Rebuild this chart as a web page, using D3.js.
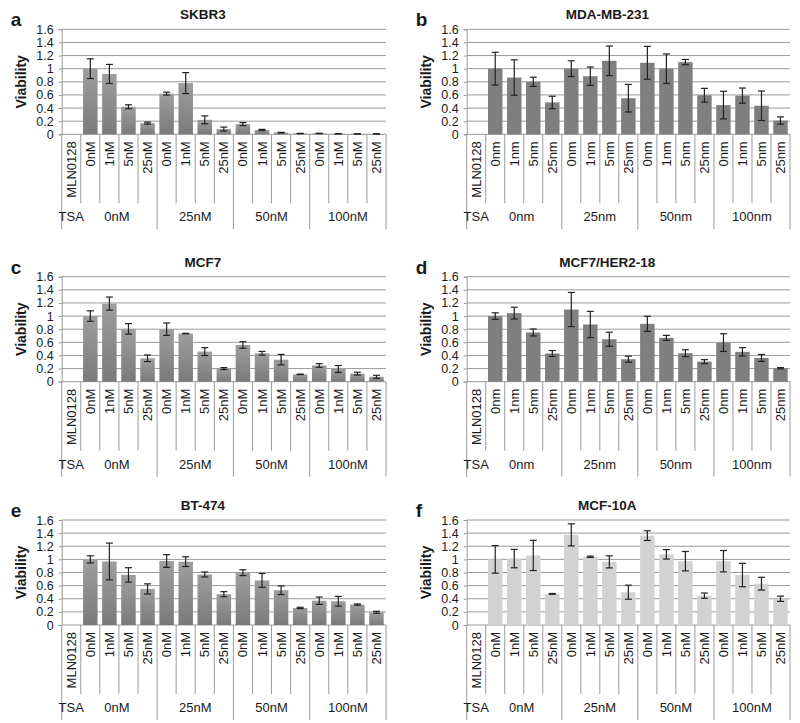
<!DOCTYPE html>
<html><head><meta charset="utf-8">
<script src="https://cdn.jsdelivr.net/npm/d3@7"></script>
<style>body{margin:0;background:#fff}svg{display:block}text{font-family:"Liberation Sans",Arial,sans-serif;fill:#1a1a1a}</style>
</head><body><svg id="c" width="800" height="723"></svg>
<script>
// ---- data ----
const titles = ["SKBR3","MDA-MB-231","MCF7","MCF7/HER2-18","BT-474","MCF-10A"];
const letters = ["a","b","c","d","e","f"];
const mlnUpper = ["0nM","1nM","5nM","25nM"];
const mlnLower = ["0nm","1nm","5nm","25nm"];
const tsaUpper = ["0nM","25nM","50nM","100nM"];
const tsaLower = ["0nm","25nm","50nm","100nm"];
const yTickValues = [0,0.2,0.4,0.6,0.8,1,1.2,1.4,1.6];
const yTickLabels = ["0","0.2","0.4","0.6","0.8","1","1.2","1.4","1.6"];

const skbr3Values = [1.0,0.92,0.42,0.17,0.62,0.78,0.22,0.08,0.155,0.065,0.025,0.012,0.013,0.008,0.006,0.006];
const skbr3Errors = [0.15,0.145,0.03,0.015,0.022,0.16,0.06,0.03,0.023,0.01,0.005,0.003,0.003,0.002,0.002,0.002];
const mda231Values = [1.0,0.865,0.8,0.485,1.0,0.885,1.12,0.55,1.09,1.0,1.1,0.595,0.445,0.59,0.435,0.21];
const mda231Errors = [0.25,0.27,0.07,0.095,0.12,0.14,0.225,0.21,0.25,0.225,0.04,0.105,0.21,0.115,0.225,0.055];
const mcf7Values = [1.0,1.19,0.805,0.357,0.8,0.734,0.459,0.2,0.56,0.433,0.336,0.112,0.247,0.194,0.123,0.075];
const mcf7Errors = [0.08,0.1,0.08,0.05,0.095,0.004,0.06,0.015,0.05,0.028,0.08,0.004,0.028,0.053,0.022,0.023];
const her2Values = [1.0,1.045,0.75,0.43,1.1,0.872,0.647,0.343,0.882,0.668,0.434,0.306,0.596,0.455,0.362,0.205];
const her2Errors = [0.05,0.09,0.053,0.045,0.26,0.2,0.107,0.046,0.115,0.038,0.053,0.03,0.135,0.064,0.053,0.01];
const bt474Values = [1.0,0.968,0.763,0.55,0.975,0.965,0.77,0.47,0.797,0.68,0.53,0.26,0.37,0.362,0.311,0.194];
const bt474Errors = [0.055,0.28,0.11,0.077,0.097,0.074,0.038,0.038,0.044,0.105,0.066,0.01,0.056,0.074,0.01,0.015];
const mcf10aValues = [1.0,1.012,1.06,0.474,1.373,1.04,0.962,0.5,1.362,1.077,0.972,0.447,0.972,0.762,0.63,0.4];
const mcf10aErrors = [0.21,0.14,0.23,0.006,0.168,0.01,0.092,0.107,0.074,0.072,0.148,0.04,0.163,0.178,0.097,0.04];

const panels = [
  {values: skbr3Values, errors: skbr3Errors, mln: mlnUpper, tsa: tsaUpper, fill: "url(#grad)"},
  {values: mda231Values, errors: mda231Errors, mln: mlnLower, tsa: tsaLower, fill: "#7f7f7f"},
  {values: mcf7Values, errors: mcf7Errors, mln: mlnUpper, tsa: tsaUpper, fill: "url(#grad)"},
  {values: her2Values, errors: her2Errors, mln: mlnLower, tsa: tsaLower, fill: "#7f7f7f"},
  {values: bt474Values, errors: bt474Errors, mln: mlnUpper, tsa: tsaUpper, fill: "url(#grad)"},
  {values: mcf10aValues, errors: mcf10aErrors, mln: mlnUpper, tsa: tsaUpper, fill: "#d2d2d2"}
];

// ---- layout ----
const colLeft = [61.7, 466.7], colRight = [386, 790];
const rowTop = [29.3, 276.7, 520];
const plotH = 105;
const grid = "#9a9a9a";
const catFont = "13px";

const svg = d3.select("#c");
const defs = svg.append("defs");
const g0 = defs.append("linearGradient").attr("id","grad").attr("x1",0).attr("y1",0).attr("x2",0).attr("y2",1);
g0.append("stop").attr("offset","0%").attr("stop-color","#9e9e9e");
g0.append("stop").attr("offset","100%").attr("stop-color","#7a7a7a");

panels.forEach((p, k) => {
  const col = k % 2, row = Math.floor(k / 2);
  const L = colLeft[col], R = colRight[col], T = rowTop[row], B = T + plotH;
  const g = svg.append("g");
  const slots = d3.range(17);
  const x = d3.scaleBand().domain(slots).range([L, R]).paddingInner(0).paddingOuter(0);
  const y = d3.scaleLinear().domain([0, 1.6]).range([B, T]);
  const bw = x.bandwidth();

  // gridlines
  g.selectAll(".gl").data(yTickValues).join("line")
    .attr("x1", L).attr("x2", R).attr("y1", d => y(d)).attr("y2", d => y(d))
    .attr("stroke", grid).attr("stroke-width", 1);

  // y axis
  const yAxis = d3.axisLeft(y).tickValues(yTickValues).tickFormat((d, i) => yTickLabels[i]).tickSize(3).tickPadding(5);
  const ya = g.append("g").attr("transform", `translate(${L},0)`).call(yAxis);
  ya.select(".domain").attr("stroke", grid);
  ya.selectAll(".tick line").attr("stroke", grid);
  ya.selectAll(".tick text").style("font-size", "12.5px").attr("fill", "#1a1a1a").style("font-family", '"Liberation Sans",Arial,sans-serif');

  // category separators below axis
  const bounds = d3.range(18);
  g.selectAll(".sep").data(bounds).join("line")
    .attr("x1", i => L + i * bw).attr("x2", i => L + i * bw)
    .attr("y1", B).attr("y2", i => ([0,5,9,13,17].includes(i) ? B + 95 : B + 69))
    .attr("stroke", grid).attr("stroke-width", 1);

  // bars
  const bars = p.values.map((v, i) => ({slot: i + 1, v, e: p.errors[i]}));
  const bwBar = bw * 0.76;
  g.selectAll(".bar").data(bars).join("rect")
    .attr("x", d => x(d.slot) + (bw - bwBar) / 2).attr("width", bwBar)
    .attr("y", d => y(d.v)).attr("height", d => y(0) - y(d.v))
    .attr("fill", p.fill);

  // error bars
  const eb = g.selectAll(".eb").data(bars).join("g")
    .attr("transform", d => `translate(${x(d.slot) + bw / 2},0)`);
  eb.append("line").attr("y1", d => y(d.v + d.e)).attr("y2", d => y(d.v - d.e))
    .attr("stroke", "#222").attr("stroke-width", 1.2);
  eb.append("line").attr("x1", -3.5).attr("x2", 3.5).attr("y1", d => y(d.v + d.e)).attr("y2", d => y(d.v + d.e))
    .attr("stroke", "#222").attr("stroke-width", 1.2);
  eb.append("line").attr("x1", -3.5).attr("x2", 3.5).attr("y1", d => y(d.v - d.e)).attr("y2", d => y(d.v - d.e))
    .attr("stroke", "#222").attr("stroke-width", 1.2);

  // rotated category labels
  const catLabels = slots.map(i => i === 0 ? "MLN0128" : p.mln[(i - 1) % 4]);
  g.selectAll(".cl").data(slots).join("text")
    .attr("transform", i => `translate(${x(i) + bw / 2},${B + 7}) rotate(-90)`)
    .attr("text-anchor", "end").attr("dy", "0.35em")
    .style("font-size", catFont).text(i => catLabels[i]);

  // TSA row
  g.append("text").attr("x", x(0) + bw / 2).attr("y", B + 87).attr("text-anchor", "middle")
    .style("font-size", catFont).text("TSA");
  g.selectAll(".gl2").data(p.tsa).join("text")
    .attr("x", (d, j) => L + (1 + 4 * j + 2) * bw - (j === 0 ? 2 : 0)).attr("y", B + 87).attr("text-anchor", "middle")
    .style("font-size", catFont).text(d => d);

  // title
  g.append("text").attr("x", (L + R) / 2 - 21).attr("y", T - 10).attr("text-anchor", "middle")
    .style("font-size", "13.5px").style("font-weight", "bold").text(titles[k]);
  // letter
  g.append("text").attr("x", L - 51).attr("y", T - 3)
    .style("font-size", "19px").style("font-weight", "bold").text(letters[k]);
  // y label
  g.append("text").attr("transform", `translate(${L - 41},${(T + B) / 2}) rotate(-90)`)
    .attr("text-anchor", "middle").attr("dy", "0.35em")
    .style("font-size", "14px").style("font-weight", "bold").text("Viability");
});
</script></body></html>
